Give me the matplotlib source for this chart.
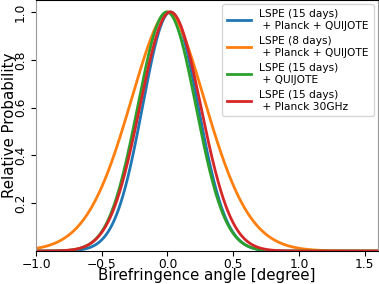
import numpy as np
import matplotlib
matplotlib.use('Agg')
import matplotlib.pyplot as plt

# series: peak position, half width and tail shape of each curve
labels = ['LSPE (15 days)\n + Planck + QUIJOTE',
          'LSPE (8 days)\n + Planck + QUIJOTE',
          'LSPE (15 days)\n + QUIJOTE',
          'LSPE (15 days)\n + Planck 30GHz']
means = [0.022, 0.003, -0.005, 0.022]
widths = [0.211, 0.292, 0.221, 0.231]
shapes = [2.0, 1.78, 2.0, 2.0]
colors = ['#1f77b4', '#ff7f0e', '#2ca02c', '#d62728']
xticks = [-1.0, -0.5, 0.0, 0.5, 1.0, 1.5]
yticks = [0.2, 0.4, 0.6, 0.8, 1.0]

fig = plt.figure(figsize=(3.79, 2.84), dpi=100)
ax = fig.add_axes([0.095, 0.116, 0.902, 0.884])

x = np.linspace(-1.0, 1.6, 800)
for m, s, p, c, lab in zip(means, widths, shapes, colors, labels):
    ax.plot(x, np.exp(-0.5 * np.abs((x - m) / s) ** p), color=c, lw=2.0, label=lab)

ax.set_xlim(-1.0, 1.6)
ax.set_ylim(0, 1.05)
ax.set_xticks(xticks)
ax.set_yticks(yticks)
ax.tick_params(labelsize=8.8, pad=3)
ax.tick_params(axis='x', pad=1.8)
plt.setp(ax.get_yticklabels(), rotation=90, va='center')
ax.set_xlabel('Birefringence angle [degree]', fontsize=10.8)
ax.set_ylabel('Relative Probability', fontsize=10.8)
ax.xaxis.set_label_coords(0.5, -0.068)
ax.yaxis.set_label_coords(-0.055, 0.5)
ax.spines['left'].set_color('#999999')
ax.spines['right'].set_color('#999999')
ax.legend(loc='upper right', fontsize=7.7, handlelength=2.2, borderpad=0.45,
          labelspacing=0.5, borderaxespad=0.4)

fig.savefig('out.png', dpi=100)
